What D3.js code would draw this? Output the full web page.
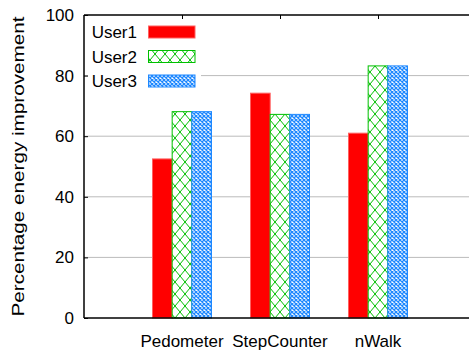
<!DOCTYPE html>
<html><head><meta charset="utf-8">
<script src="https://cdn.jsdelivr.net/npm/d3@7"></script>
<style>body{margin:0;background:#fff}svg{display:block}text{font-family:"Liberation Sans",Arial,sans-serif;fill:#000}</style>
</head><body>
<script>
const categories = ["Pedometer", "StepCounter", "nWalk"];
const seriesNames = ["User1", "User2", "User3"];
const user1 = [52.5, 74.2, 61];
const user2 = [68.1, 67.2, 83.2];
const user3 = [68.1, 67.2, 83.2];
const yTicks = [0, 20, 40, 60, 80, 100];
const yLabel = "Percentage energy improvement";

const W = 469, H = 350;
const pLeft = 84, pRight = 471, pTop = 15, pBottom = 318;
const svg = d3.select("body").append("svg").attr("width", W).attr("height", H);

const defs = svg.append("defs");
const green = "#00c000", blue = "#1e88ff", red = "#ff0000";
const pg = defs.append("pattern").attr("id", "pGreen").attr("patternUnits", "userSpaceOnUse")
  .attr("width", 10).attr("height", 12);
pg.append("rect").attr("width", 10).attr("height", 12).attr("fill", "#fff");
pg.append("path").attr("d", "M0,0L10,12M10,0L0,12").attr("stroke", green).attr("stroke-width", 1);
const pb = defs.append("pattern").attr("id", "pBlue").attr("patternUnits", "userSpaceOnUse")
  .attr("width", 4).attr("height", 4);
pb.append("rect").attr("width", 4).attr("height", 4).attr("fill", "#fff");
pb.append("path").attr("d", "M0,0L4,4M4,0L0,4").attr("stroke", blue).attr("stroke-width", 1.3);

const fillFor = [red, "url(#pGreen)", "url(#pBlue)"];
const strokeFor = ["#ff6060", green, blue];

const y = d3.scaleLinear().domain([0, 100]).range([pBottom, pTop]);
const x = d3.scalePoint().domain(categories).range([182, 378]);
const xs = d3.scaleBand().domain(seriesNames).range([-29.5, 29.5]);

// grid
svg.append("g").selectAll("line").data(yTicks.filter(d => d > 0 && d < 100)).join("line")
  .attr("x1", pLeft).attr("x2", pRight).attr("y1", d => y(d)).attr("y2", d => y(d))
  .attr("stroke", "#bbbbbb").attr("stroke-width", 1);

// bars
const data = [user1, user2, user3];
const gb = svg.append("g");
seriesNames.forEach((s, si) => {
  gb.selectAll(".b" + si).data(categories).join("rect")
    .attr("class", "b" + si)
    .attr("x", c => x(c) + xs(s))
    .attr("width", xs.bandwidth())
    .attr("y", (c, i) => y(data[si][i]))
    .attr("height", (c, i) => y(0) - y(data[si][i]))
    .attr("fill", fillFor[si])
    .attr("stroke", strokeFor[si]).attr("stroke-width", 1);
});

// axes
const ax = svg.append("g").attr("transform", `translate(${pLeft},0)`)
  .call(d3.axisLeft(y).tickValues(yTicks).tickSize(-4).tickPadding(10));
ax.select(".domain").remove();
ax.selectAll(".tick line").attr("stroke", "#000");
ax.selectAll("text").attr("font-size", 17).style("font-family", '"Liberation Sans",Arial,sans-serif');

const axTop = svg.append("g").attr("transform", `translate(0,${pTop})`)
  .call(d3.axisBottom(x).tickSize(4).tickFormat(""));
axTop.select(".domain").remove();
axTop.selectAll(".tick line").attr("stroke", "#000");

svg.append("line").attr("x1", pLeft).attr("x2", pRight).attr("y1", pTop).attr("y2", pTop).attr("stroke", "#000").attr("stroke-width", 1.5);
svg.append("line").attr("x1", pLeft).attr("x2", pRight).attr("y1", pBottom).attr("y2", pBottom).attr("stroke", "#000").attr("stroke-width", 1.5);
svg.append("line").attr("x1", pLeft).attr("x2", pLeft).attr("y1", pTop).attr("y2", pBottom).attr("stroke", "#000").attr("stroke-width", 1.5);

// x labels
svg.append("g").selectAll("text").data(categories).join("text")
  .attr("x", c => x(c)).attr("y", 347).attr("text-anchor", "middle")
  .attr("font-size", 17).text(c => c);

// y label
svg.append("text").attr("transform", `translate(24,${(pTop + pBottom) / 2}) rotate(-90)`)
  .attr("text-anchor", "middle").attr("font-size", 17)
  .attr("textLength", 300).attr("lengthAdjust", "spacingAndGlyphs").text(yLabel);

// legend
const lg = svg.append("g");
lg.append("rect").attr("x", 88).attr("y", 19).attr("width", 113).attr("height", 73).attr("fill", "#fff");
const rowY = d3.scalePoint().domain(seriesNames).range([32, 81]);
seriesNames.forEach((s, si) => {
  lg.append("text").attr("x", 137).attr("y", rowY(s) + 6).attr("text-anchor", "end")
    .attr("font-size", 17).text(s);
  lg.append("rect").attr("x", 148.5).attr("y", rowY(s) - 6).attr("width", 46.5).attr("height", 12)
    .attr("fill", fillFor[si]).attr("stroke", strokeFor[si]).attr("stroke-width", 1);
});
</script>
</body></html>
